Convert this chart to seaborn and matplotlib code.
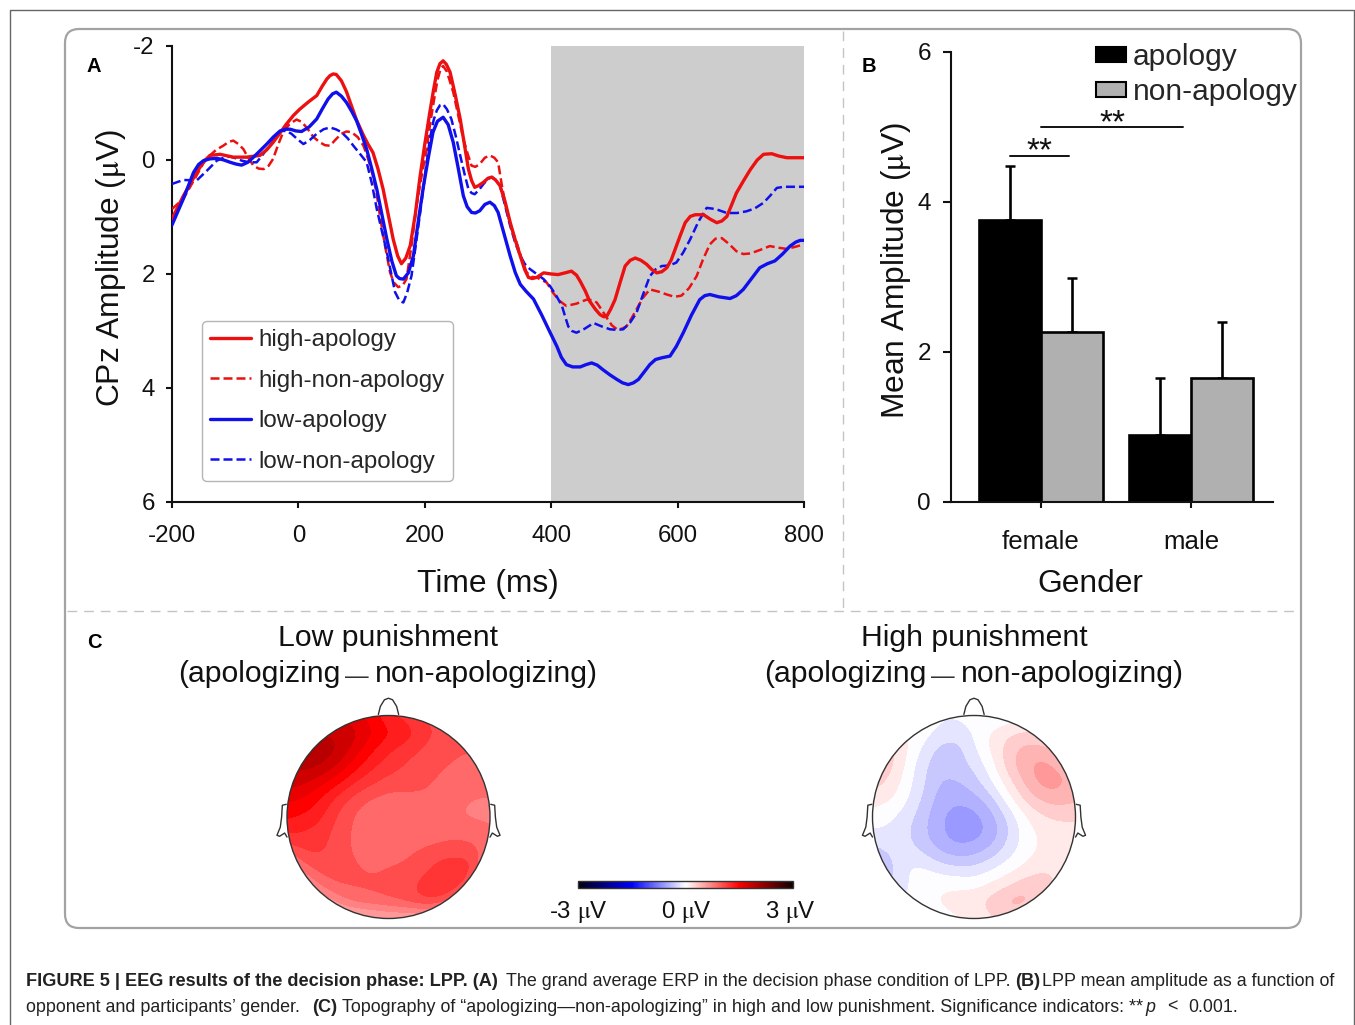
import matplotlib
matplotlib.use("Agg")
import matplotlib.pyplot as plt
import numpy as np
import pandas as pd
import seaborn as sns
from matplotlib.colors import BoundaryNorm, LinearSegmentedColormap
from matplotlib.patches import Circle, FancyBboxPatch, Patch

W, H = 1355, 1025

# panel A, ERP curves
hi_ap_t = [-200, -182, -161, -150, -140, -124, -103, -82, -61, -50, -40, -30, -19, -8, 2, 16, 29, 38, 45, 50, 55, 60, 68, 76, 84, 92, 103, 110, 118, 126, 134, 142, 150, 157, 163, 170, 177, 185, 192, 200, 208, 214, 219, 224, 229, 234, 240, 248, 256, 263, 269, 274, 279, 285, 293, 300, 306, 312, 319, 327, 335, 343, 351, 358, 364, 370, 377, 388, 400, 411, 422, 432, 440, 446, 454, 461, 470, 477, 483, 488, 494, 501, 509, 517, 525, 533, 542, 551, 559, 567, 575, 583, 590, 596, 604, 612, 620, 628, 641, 652, 662, 670, 678, 685, 693, 704, 715, 726, 736, 749, 760, 773, 800]
hi_ap_v = [1.03, .63, .22, .03, -.08, -.1, -.05, -.05, -.08, -.18, -.31, -.46, -.63, -.78, -.89, -1.02, -1.13, -1.3, -1.42, -1.48, -1.51, -1.5, -1.39, -1.2, -.95, -.7, -.43, -.28, -.13, .16, .51, .95, 1.39, 1.68, 1.82, 1.72, 1.5, .95, .33, -.28, -.84, -1.24, -1.54, -1.69, -1.74, -1.68, -1.54, -1.15, -.72, -.25, .16, .36, .48, .45, .39, .32, .3, .35, .45, .73, 1.09, 1.4, 1.68, 1.92, 2.06, 2.08, 2.06, 1.98, 2.0, 2.01, 1.98, 1.95, 2.02, 2.13, 2.3, 2.48, 2.62, 2.71, 2.75, 2.74, 2.62, 2.45, 2.15, 1.86, 1.76, 1.72, 1.76, 1.83, 1.92, 1.98, 1.96, 1.89, 1.75, 1.57, 1.33, 1.1, .99, .96, .96, 1.04, 1.1, 1.07, .99, .8, .58, .37, .17, 0, -.1, -.11, -.07, -.04, -.04]
hi_non_t = [-200, -182, -161, -150, -140, -130, -119, -110, -103, -95, -87, -79, -71, -63, -55, -47, -40, -32, -24, -14, -3, 5, 13, 24, 34, 42, 50, 59, 68, 76, 84, 94, 103, 110, 118, 124, 129, 137, 145, 151, 158, 165, 171, 179, 187, 195, 203, 208, 213, 220, 225, 229, 235, 245, 253, 261, 268, 274, 280, 287, 295, 303, 310, 316, 322, 329, 337, 345, 353, 361, 369, 377, 393, 403, 413, 424, 440, 456, 465, 472, 480, 488, 496, 504, 512, 519, 527, 535, 545, 556, 570, 583, 595, 606, 618, 630, 640, 651, 660, 670, 681, 693, 704, 715, 730, 746, 760, 773, 787, 800]
hi_non_v = [.86, .68, .27, .05, -.08, -.18, -.25, -.32, -.34, -.28, -.19, -.03, .1, .15, .16, .1, -.02, -.27, -.49, -.63, -.71, -.67, -.57, -.4, -.31, -.26, -.25, -.36, -.46, -.5, -.49, -.4, -.25, -.03, .27, .6, .98, 1.5, 1.97, 2.15, 2.23, 2.2, 2.09, 1.5, .8, .28, -.19, -.6, -.95, -1.4, -1.6, -1.65, -1.55, -1.19, -.78, -.37, -.1, .1, .12, .07, -.04, -.08, -.04, .04, .45, .86, 1.2, 1.44, 1.72, 1.97, 2.05, 2.06, 2.15, 2.33, 2.47, 2.56, 2.52, 2.45, 2.46, 2.5, 2.63, 2.77, 2.9, 2.97, 2.96, 2.92, 2.78, 2.62, 2.42, 2.27, 2.31, 2.36, 2.4, 2.38, 2.25, 2.04, 1.75, 1.48, 1.38, 1.37, 1.47, 1.6, 1.65, 1.64, 1.58, 1.51, 1.54, 1.56, 1.52, 1.48]
lo_ap_t = [-200, -182, -166, -158, -150, -140, -129, -118, -108, -99, -90, -80, -71, -60, -50, -40, -29, -20, -13, -4, 5, 17, 29, 38, 47, 54, 60, 68, 76, 84, 92, 100, 108, 116, 124, 132, 140, 148, 155, 160, 166, 174, 182, 190, 198, 206, 213, 220, 229, 237, 245, 253, 261, 267, 274, 280, 287, 295, 303, 310, 316, 325, 335, 343, 351, 360, 372, 385, 398, 409, 416, 424, 434, 446, 455, 464, 473, 482, 493, 504, 513, 522, 530, 538, 547, 556, 565, 575, 588, 598, 609, 622, 635, 643, 651, 665, 683, 693, 704, 717, 730, 742, 754, 766, 778, 787, 794, 800]
lo_ap_v = [1.14, .68, .22, .08, .01, -.02, -.03, 0, .04, .07, .09, .04, -.05, -.17, -.28, -.4, -.51, -.54, -.54, -.51, -.5, -.58, -.72, -.9, -1.07, -1.16, -1.19, -1.12, -1.01, -.86, -.69, -.45, -.19, .15, .51, .95, 1.39, 1.78, 2.03, 2.08, 2.09, 1.98, 1.68, 1.05, .45, -.07, -.49, -.68, -.75, -.62, -.31, .15, .63, .82, .92, .93, .89, .78, .74, .8, .92, 1.28, 1.68, 1.97, 2.18, 2.3, 2.44, 2.72, 3.02, 3.27, 3.46, 3.59, 3.63, 3.63, 3.59, 3.56, 3.6, 3.68, 3.77, 3.85, 3.91, 3.94, 3.91, 3.85, 3.72, 3.59, 3.5, 3.47, 3.44, 3.27, 3.03, 2.72, 2.45, 2.38, 2.36, 2.4, 2.43, 2.38, 2.27, 2.08, 1.89, 1.82, 1.77, 1.65, 1.51, 1.44, 1.41, 1.41]
lo_non_t = [-200, -182, -161, -145, -129, -118, -108, -99, -90, -78, -66, -58, -50, -38, -27, -19, -11, -1, 8, 18, 29, 40, 50, 59, 68, 78, 87, 98, 108, 116, 124, 132, 140, 147, 153, 160, 166, 172, 179, 185, 192, 200, 208, 214, 219, 224, 229, 235, 242, 249, 256, 263, 269, 274, 279, 286, 293, 300, 306, 312, 319, 327, 335, 343, 351, 358, 366, 377, 388, 398, 408, 417, 423, 427, 433, 440, 453, 467, 480, 493, 504, 514, 525, 535, 545, 556, 565, 575, 587, 598, 609, 620, 633, 646, 660, 678, 694, 709, 722, 736, 747, 757, 768, 783, 800]
lo_non_v = [.42, .35, .36, .19, .01, -.04, -.06, -.03, .01, .04, .04, -.07, -.19, -.36, -.51, -.51, -.46, -.36, -.28, -.35, -.46, -.54, -.57, -.54, -.49, -.38, -.25, -.1, .04, .4, .86, 1.24, 1.62, 2.0, 2.32, 2.47, 2.5, 2.33, 2.03, 1.55, .98, .3, -.37, -.7, -.87, -.96, -.98, -.89, -.72, -.42, -.08, .25, .51, .58, .6, .52, .42, .33, .3, .35, .45, .8, 1.15, 1.45, 1.68, 1.82, 1.91, 2.0, 2.09, 2.21, 2.38, 2.56, 2.78, 2.92, 3.0, 3.03, 2.96, 2.86, 2.92, 2.97, 2.98, 2.97, 2.85, 2.68, 2.37, 2.04, 1.92, 1.86, 1.85, 1.8, 1.62, 1.39, 1.08, .84, .86, .93, .93, .9, .85, .75, .62, .49, .47, .47, .47]

# panel B, bars
genders = ["female", "male"]
apology_amp = [3.76, 0.89]
non_apology_amp = [2.27, 1.65]
apology_err = [0.72, 0.76]
non_apology_err = [0.72, 0.75]

# panel C, scalp maps in microvolts, top row = front of the head
low_map = [
    [1.5, 1.5, 1.7, 1.7, 1.6, 1.5, 1.3, 1.2, 1.1, 1.05, 1.0, 1.0, 1.0],
    [1.7, 1.8, 1.85, 1.85, 1.8, 1.6, 1.45, 1.4, 1.2, 1.1, 1.05, 1.0, 1.0],
    [1.9, 1.95, 2.0, 1.9, 1.65, 1.45, 1.3, 1.2, 1.1, 1.05, 1.0, 1.0, 0.95],
    [1.9, 1.95, 1.9, 1.7, 1.5, 1.3, 1.2, 1.1, 1.05, 1.0, 0.95, 0.9, 0.9],
    [1.8, 1.75, 1.6, 1.45, 1.25, 1.15, 1.05, 1.05, 1.0, 0.95, 0.88, 0.85, 0.85],
    [1.6, 1.55, 1.4, 1.2, 1.05, 0.95, 0.9, 0.9, 0.95, 0.92, 0.85, 0.82, 0.82],
    [1.45, 1.4, 1.3, 1.1, 0.95, 0.85, 0.85, 0.87, 0.9, 0.88, 0.82, 0.8, 0.8],
    [1.3, 1.25, 1.2, 1.05, 0.95, 0.85, 0.85, 0.85, 0.88, 0.9, 0.95, 0.9, 0.85],
    [1.0, 1.15, 1.15, 1.05, 0.95, 0.87, 0.87, 0.95, 1.0, 1.05, 1.05, 1.05, 0.85],
    [0.6, 0.95, 1.05, 1.05, 1.0, 0.95, 1.0, 1.0, 1.05, 1.2, 1.25, 1.2, 0.55],
    [0.4, 0.6, 0.9, 1.0, 1.0, 1.0, 1.0, 1.05, 1.2, 1.3, 1.3, 0.9, 0.3],
    [0.1, 0.2, 0.5, 0.75, 0.9, 0.95, 1.0, 1.05, 1.15, 1.15, 0.8, 0.3, 0.1],
    [0.0, 0.0, 0.1, 0.3, 0.35, 0.4, 0.45, 0.45, 0.45, 0.35, 0.1, 0.0, 0.0],
]
high_map = [
    [0.0, 0.0, 0.0, 0.0, -0.05, -0.05, 0.0, -0.1, -0.05, 0.0, 0.0, 0.0, 0.0],
    [0.1, 0.1, 0.1, 0.0, -0.1, -0.17, -0.05, 0.1, 0.2, 0.25, 0.2, 0.1, 0.1],
    [0.35, 0.3, 0.1, -0.1, -0.3, -0.3, -0.1, 0.1, 0.3, 0.45, 0.45, 0.35, 0.3],
    [0.35, 0.3, 0.05, -0.2, -0.33, -0.3, -0.2, 0.0, 0.3, 0.5, 0.6, 0.5, 0.4],
    [0.3, 0.2, 0.0, -0.2, -0.4, -0.4, -0.3, -0.1, 0.15, 0.4, 0.6, 0.6, 0.45],
    [0.15, 0.1, -0.05, -0.25, -0.45, -0.5, -0.45, -0.3, 0.0, 0.25, 0.4, 0.45, 0.4],
    [0.0, -0.05, -0.15, -0.32, -0.5, -0.62, -0.6, -0.45, -0.2, 0.05, 0.2, 0.25, 0.25],
    [-0.1, -0.1, -0.2, -0.35, -0.5, -0.62, -0.6, -0.5, -0.25, 0.0, 0.1, 0.15, 0.15],
    [-0.3, -0.2, -0.15, -0.25, -0.4, -0.48, -0.45, -0.33, -0.15, 0.0, 0.1, 0.15, 0.15],
    [-0.4, -0.3, -0.05, -0.05, -0.15, -0.2, -0.2, -0.1, 0.0, 0.1, 0.2, 0.2, 0.15],
    [-0.3, -0.25, -0.1, 0.05, 0.05, 0.05, 0.02, 0.1, 0.2, 0.33, 0.33, 0.2, 0.1],
    [-0.1, -0.1, -0.05, 0.0, 0.1, 0.15, 0.2, 0.3, 0.46, 0.46, 0.3, 0.1, 0.0],
    [0.0, 0.0, 0.0, 0.0, 0.0, 0.05, 0.1, 0.2, 0.25, 0.2, 0.05, 0.0, 0.0],
]

# head outline pieces, in head radii
nose_x = [-0.1, -0.08, -0.04, 0, 0.04, 0.08, 0.1]
nose_y = [1.01, 1.09, 1.155, 1.17, 1.155, 1.09, 1.01]
ear_x = [-1.007, -1.046, -1.053, -1.066, -1.099, -1.073, -1.023, -1.0]
ear_y = [0.125, 0.116, 0.0, -0.1, -0.18, -0.19, -0.158, -0.198]

sns.set_theme(style="white")
plt.rcParams["font.family"] = ["Liberation Sans"]
plt.rcParams["mathtext.fontset"] = "stix"
plt.rcParams["axes.unicode_minus"] = False
plt.rcParams["lines.solid_joinstyle"] = "round"

MU = r"$\mathrm{\mu}$"

fig = plt.figure(figsize=(W / 100, H / 100), dpi=100, facecolor="white")


def px_axes(left, top, right, bottom, **kw):
    return fig.add_axes([left / W, 1 - bottom / H, (right - left) / W, (bottom - top) / H], **kw)


# full page layer in pixel coordinates for frame, separators and free text
bg = px_axes(0, 0, W, H)
bg.set_xlim(0, W)
bg.set_ylim(H, 0)
bg.axis("off")

bg.plot([10, 10, 1354, 1354], [1025, 9.5, 9.5, 1025], color="#666666", lw=1)
bg.add_patch(FancyBboxPatch((65, 29), 1236, 899, boxstyle="round,pad=0,rounding_size=14",
                            fc="none", ec="#a3a3a3", lw=1.6))
bg.plot([843, 843], [31, 610], color="#c4c4c4", lw=1, ls=(0, (7, 5)))
bg.plot([67, 1300], [611, 611], color="#c4c4c4", lw=1, ls=(0, (7, 5)))

for letter, x, y in [("A", 94, 66), ("B", 869, 66), ("C", 94, 643)]:
    bg.text(x, y, letter, fontsize=14.5, fontweight="bold", ha="center", va="center", color="black")

# panel A
ax_a = px_axes(172, 46, 804, 502)
ax_a.patch.set_alpha(0)
ax_a.axvspan(400, 800, color="#cdcdcd", lw=0, zorder=0)

sns.lineplot(x=hi_ap_t, y=hi_ap_v, ax=ax_a, color="#ec1010", lw=2.4, label="high-apology", zorder=4)
sns.lineplot(x=hi_non_t, y=hi_non_v, ax=ax_a, color="#ec1010", lw=1.8, ls=(0, (3.6, 1.6)),
             label="high-non-apology", zorder=3)
sns.lineplot(x=lo_ap_t, y=lo_ap_v, ax=ax_a, color="#1010ec", lw=2.4, label="low-apology", zorder=5)
sns.lineplot(x=lo_non_t, y=lo_non_v, ax=ax_a, color="#1010ec", lw=1.8, ls=(0, (3.6, 1.6)),
             label="low-non-apology", zorder=3)

ax_a.set_xlim(-200, 800)
ax_a.set_ylim(6, -2)
ax_a.set_xticks([-200, 0, 200, 400, 600, 800])
ax_a.set_yticks([-2, 0, 2, 4, 6])
ax_a.set_xlabel("")
ax_a.set_ylabel("")
sns.despine(ax=ax_a)
for side in ["left", "bottom"]:
    ax_a.spines[side].set_linewidth(1.5)
    ax_a.spines[side].set_color("#111111")
ax_a.tick_params(axis="y", left=True, length=4.5, width=1.5, color="#111111",
                 labelsize=17.3, labelcolor="#111111", pad=8)
ax_a.tick_params(axis="x", bottom=True, length=4.5, width=1.5, color="#111111",
                 labelsize=17.3, labelcolor="#111111", pad=12)
ax_a.legend(loc="upper left", bbox_to_anchor=(202, 321), bbox_transform=bg.transData, borderaxespad=0,
            fontsize=17.4, handlelength=1.7, handletextpad=0.3, labelspacing=0.77, borderpad=0.33,
            frameon=True, fancybox=True, edgecolor="#b5b5b5", facecolor="white", framealpha=1)
bg.text(677, 125, "LPP", fontsize=26, ha="center", va="center", color="#111111", zorder=6)
bg.text(488, 584, "Time (ms)", fontsize=22.9, ha="center", va="center", color="#111111")
bg.text(111, 268, "CPz Amplitude (" + MU + "V)", fontsize=22.9, rotation=90, ha="center", va="center", color="#111111")

# panel B
bars = pd.DataFrame({
    "gender": genders * 2,
    "condition": ["apology"] * 2 + ["non-apology"] * 2,
    "amp": apology_amp + non_apology_amp,
})
ax_b = px_axes(951, 52, 1273, 502)
ax_b.patch.set_alpha(0)
sns.barplot(data=bars, x="gender", y="amp", hue="condition", ax=ax_b, order=genders,
            palette={"apology": "black", "non-apology": "#b0b0b0"}, width=0.83, gap=0,
            errorbar=None, edgecolor="black", linewidth=1.9, legend=False, zorder=2)
for cont, errs in zip(ax_b.containers, [apology_err, non_apology_err]):
    for patch, err in zip(cont, errs):
        ax_b.errorbar(patch.get_x() + patch.get_width() / 2, patch.get_height(), yerr=[[0], [err]],
                      color="black", lw=1.9, capsize=3.8, capthick=1.8, zorder=1)
ax_b.set_xlim(-0.6, 1.547)
ax_b.set_ylim(0, 6)
ax_b.set_yticks([0, 2, 4, 6])
ax_b.set_xlabel("")
ax_b.set_ylabel("")
sns.despine(ax=ax_b)
for side in ["left", "bottom"]:
    ax_b.spines[side].set_linewidth(1.5)
    ax_b.spines[side].set_color("#111111")
ax_b.tick_params(axis="y", left=True, length=5.5, width=1.5, color="#111111", labelsize=17.5,
                 labelcolor="#111111", pad=9)
ax_b.tick_params(axis="x", bottom=True, length=4, width=1.5, color="#111111", labelsize=18.6,
                 labelcolor="#111111", pad=16)
bg.text(1090, 584, "Gender", fontsize=22.9, ha="center", va="center", color="#111111")
bg.text(896, 270, "Mean Amplitude (" + MU + "V)", fontsize=22.9, rotation=90, ha="center", va="center", color="#111111")

# significance brackets
bg.plot([1010, 1069], [155.5, 155.5], color="#111111", lw=1.4)
bg.plot([1041, 1183], [127, 127], color="#111111", lw=1.4)
bg.text(1039, 152, "**", fontsize=24, ha="center", va="center", color="#111111")
bg.text(1112, 124, "**", fontsize=24, ha="center", va="center", color="#111111")

ax_b.legend(handles=[Patch(fc="black", ec="black", lw=1.5, label="apology"),
                     Patch(fc="#b0b0b0", ec="black", lw=1.5, label="non-apology")],
            loc="upper left", bbox_to_anchor=(1096, 43), bbox_transform=bg.transData, borderaxespad=0,
            fontsize=21.5, frameon=False, handlelength=1.02, handleheight=0.42, handletextpad=0.22,
            labelspacing=0.24, borderpad=0)

# panel C
bounds = np.arange(-3.075, 3.076, 0.15)
cmap = LinearSegmentedColormap.from_list(
    "erp", [(0, "#000010"), (0.25, "#0000ff"), (0.5, "#ffffff"), (0.75, "#ff0000"), (1, "#100000")], N=256)
norm = BoundaryNorm(bounds, 256)


def draw_map(grid, cx, cy):
    r_px = 101.5
    side = 1.3
    ax = px_axes(cx - side * r_px, cy - side * r_px, cx + side * r_px, cy + side * r_px)
    ax.set_xlim(-side, side)
    ax.set_ylim(-side, side)
    ax.axis("off")
    pad = 1 / 12
    img = ax.imshow(grid, cmap=cmap, norm=norm, extent=(-1 - pad, 1 + pad, -1 - pad, 1 + pad),
                    interpolation="bicubic", origin="upper", zorder=1)
    img.set_clip_path(Circle((0, 0), 1, transform=ax.transData))
    ax.add_patch(Circle((0, 0), 1, fc="none", ec="#333333", lw=1, zorder=3))
    ax.plot(nose_x, nose_y, color="#333333", lw=1)
    ax.plot(ear_x, ear_y, color="#333333", lw=1)
    ax.plot(-np.array(ear_x), ear_y, color="#333333", lw=1)


draw_map(low_map, 388.5, 817)
draw_map(high_map, 974, 817)

for cx, head in [(388, "Low punishment"), (974, "High punishment")]:
    bg.text(cx, 638, head, fontsize=21.7, ha="center", va="center", color="#111111")
    bg.text(cx - 47, 674, "(apologizing", fontsize=21.7, ha="right", va="center", color="#111111")
    bg.text(cx - 31, 677, "\u2014", fontsize=17, ha="center", va="center", color="#333333")
    bg.text(cx - 13, 674, "non-apologizing)", fontsize=21.7, ha="left", va="center", color="#111111")

cax = px_axes(578, 881, 793, 888)
cb = fig.colorbar(plt.cm.ScalarMappable(norm=plt.Normalize(-3, 3), cmap=cmap), cax=cax, orientation="horizontal")
cb.set_ticks([])
cb.outline.set_edgecolor("#333333")
cb.outline.set_linewidth(1)
for x, lab in [(578, "-3"), (686, "0"), (790, "3")]:
    bg.text(x, 912, lab + " " + MU + "V", fontsize=17.3, ha="center", va="center", color="#111111")

# caption, runs of bold and regular text
caption_runs = [
    (26, 982, "FIGURE 5 | EEG results of the decision phase: LPP. (A)", "bold", "normal"),
    (506, 982, "The grand average ERP in the decision phase condition of LPP.", "normal", "normal"),
    (1015, 982, "(B)", "bold", "normal"),
    (1042, 982, "LPP mean amplitude as a function of", "normal", "normal"),
    (26, 1007, "opponent and participants\u2019 gender.", "normal", "normal"),
    (312, 1007, "(C)", "bold", "normal"),
    (342, 1007, "Topography of \u201capologizing\u2014non-apologizing\u201d in high and low punishment. Significance indicators: **", "normal", "normal"),
    (1145, 1007, "p", "normal", "italic"),
    (1167, 1007, "<", "normal", "normal"),
    (1188, 1007, "0.001.", "normal", "normal"),
]
for x, y, run, weight, style in caption_runs:
    size = 13.1 if weight == "bold" else 12.9
    bg.text(x, y, run, fontsize=size, fontweight=weight, fontstyle=style, ha="left", va="center", color="#222222")

fig.savefig("out.png", dpi=100)
